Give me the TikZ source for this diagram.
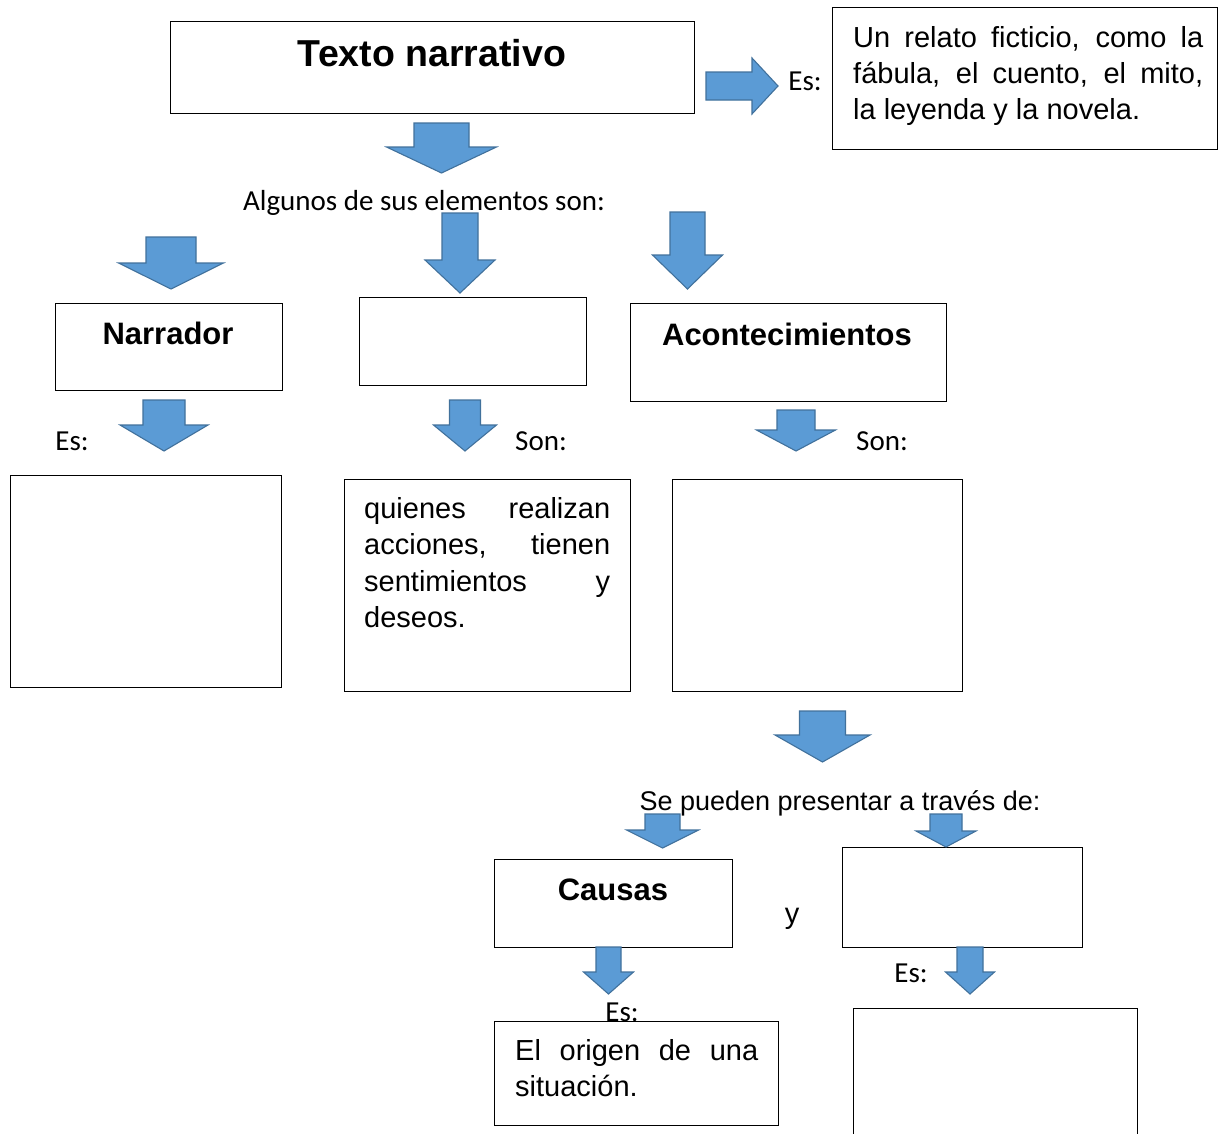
\documentclass[tikz,border=0pt]{standalone}
\usepackage{fontspec}
\setmainfont{Liberation Sans}
\newfontfamily\calfont{Carlito}
\definecolor{arrblue}{HTML}{5B9BD5}
\definecolor{arrline}{HTML}{41719C}
\newcommand\darr[6]{%
  \filldraw[arr] ({#1-#3},#2) -- ({#1+#3},#2) -- ({#1+#3},#4) -- ({#1+#5},#4)
    -- (#1,#6) -- ({#1-#5},#4) -- ({#1-#3},#4) -- cycle;}
\begin{document}
\begin{tikzpicture}[x=1pt,y=-1pt,
  box/.style={draw=black, line width=1.1pt, fill=white, anchor=north west, inner sep=0pt},
  arr/.style={fill=arrblue, draw=arrline, line width=1.1pt, line join=miter},
  ttl/.style={font=\bfseries\fontsize{31}{36}\selectfont, anchor=base, inner sep=0pt},
  lbl/.style={font=\calfont\fontsize{29}{34}\selectfont, anchor=base, inner sep=0pt},
  body/.style={font=\fontsize{29}{36}\selectfont, anchor=north west, inner sep=0pt, align=left}
]
\useasboundingbox[fill=white] (0,0) rectangle (1218,1133);

% boxes
\node[box, minimum width=524pt, minimum height=92pt] (T) at (170,21) {};
\node[box, minimum width=385pt, minimum height=142pt] (U) at (832,7) {};
\node[box, minimum width=227pt, minimum height=87pt] (N) at (55,303) {};
\node[box, minimum width=227pt, minimum height=88pt] (M) at (359,297) {};
\node[box, minimum width=316pt, minimum height=98pt] (A) at (630,303) {};
\node[box, minimum width=271pt, minimum height=212pt] (NE) at (10,475) {};
\node[box, minimum width=286pt, minimum height=212pt] (Q) at (344,479) {};
\node[box, minimum width=290pt, minimum height=212pt] (AS) at (672,479) {};
\node[box, minimum width=238pt, minimum height=88pt] (C) at (494,859) {};
\node[box, minimum width=240pt, minimum height=100pt] (R) at (842,847) {};
\node[box, minimum width=284pt, minimum height=104pt] (O) at (494,1021) {};
\node[box, minimum width=284pt, minimum height=135pt] (RE) at (853,1008) {};

% titles
\node[ttl, font=\bfseries\fontsize{37.5}{42}\selectfont] (Tt) at (432,66) {Texto narrativo};
\node[ttl] (Nt) at (168,344) {Narrador};
\node[ttl] (At) at (787,345) {Acontecimientos};
\node[ttl] (Ct) at (613,900) {Causas};

% body texts
\node[body] (Ut) at (853,26) {\makebox[350pt][s]{Un relato ficticio, como la}\\
  \makebox[350pt][s]{fábula, el cuento, el mito,}\\ la leyenda y la novela.};
\node[body, font=\fontsize{29}{36.5}\selectfont] (Qt) at (364,497) {\makebox[246pt][s]{quienes realizan}\\
  \makebox[246pt][s]{acciones, tienen}\\ \makebox[246pt][s]{sentimientos y}\\ deseos.};
\node[body] (Ot) at (515,1039) {\makebox[243pt][s]{El origen de una}\\ situación.};

% labels
\node[lbl] (l1) at (805,90) {Es:};
\node[lbl] (l2) at (424,210) {Algunos de sus elementos son:};
\node[lbl] (l3) at (72,450) {Es:};
\node[lbl] (l4) at (541,450) {Son:};
\node[lbl] (l5) at (882,450) {Son:};
\node[lbl, font=\fontsize{27}{32}\selectfont] (l6) at (840,810) {Se pueden presentar a través de:};
\node[lbl, font=\fontsize{29}{34}\selectfont] (l7) at (792,923) {y};
\node[lbl] (l8) at (911,982) {Es:};
\node[lbl] (l9) at (622,1021) {Es:};

% block arrows
\filldraw[arr] (706,72) -- (752,72) -- (752,58) -- (778,86) -- (752,114) -- (752,100) -- (706,100) -- cycle;
\darr{441.5}{123}{27.5}{147}{55}{173}
\darr{171}{237}{25}{263}{52.5}{289}
\darr{460}{213}{18}{260}{35}{293}
\darr{687.5}{212}{17.5}{255}{35}{289}
\darr{164}{400}{21}{425}{44}{451}
\darr{465}{400}{15.5}{425}{31.5}{451}
\darr{796}{410}{19}{430}{39.5}{451}
\darr{822.5}{711}{23}{735}{47.5}{762}
\darr{662.5}{814}{17.5}{830}{36}{848}
\darr{946}{814}{16}{831}{30}{847}
\darr{608.5}{947}{12.5}{972}{25}{994}
\darr{970}{947}{13}{972}{24.5}{994}
\end{tikzpicture}
\end{document}
